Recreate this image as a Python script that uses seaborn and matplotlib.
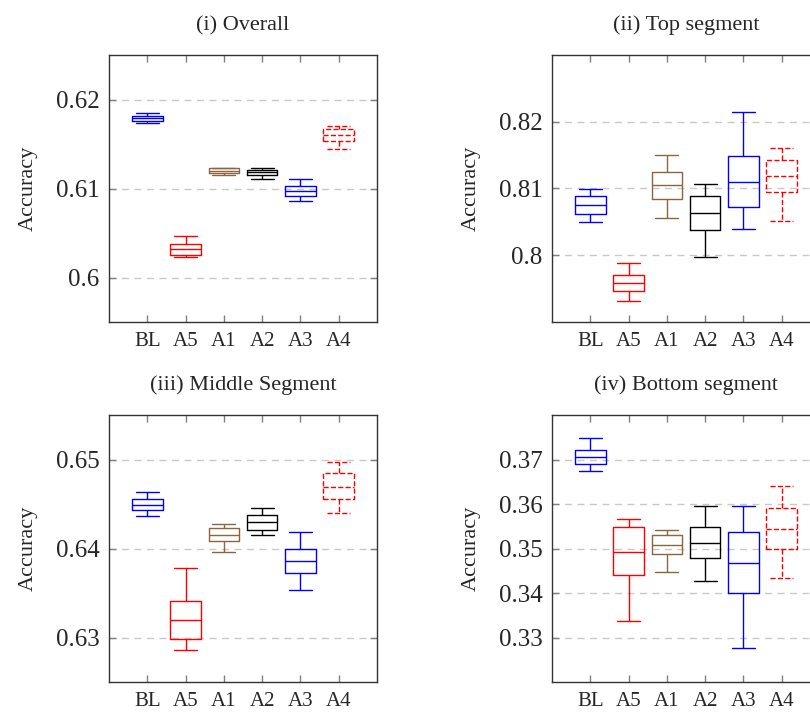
import pandas as pd
import matplotlib.pyplot as plt
import seaborn as sns

# Models in plotting order
models = ['BL', 'A5', 'A1', 'A2', 'A3', 'A4']
colors = ['#0000ff', '#ff0000', '#8b6540', '#000000', '#0000ff', '#ff0000']

# Five-number summaries: [low whisker, q1, median, q3, high whisker]
overall = {
    'BL': [0.61738, 0.61764, 0.61790, 0.61816, 0.61843],
    'A5': [0.60232, 0.60258, 0.60315, 0.60375, 0.60464],
    'A1': [0.61150, 0.61176, 0.61202, 0.61225, 0.61232],
    'A2': [0.61112, 0.61154, 0.61184, 0.61213, 0.61232],
    'A3': [0.60861, 0.60921, 0.60970, 0.61026, 0.61105],
    'A4': [0.61449, 0.61539, 0.61603, 0.61663, 0.61704],
}
top_seg = {
    'BL': [0.80494, 0.80623, 0.80757, 0.80886, 0.80995],
    'A5': [0.79313, 0.79462, 0.79581, 0.79710, 0.79888],
    'A1': [0.80563, 0.80841, 0.81055, 0.81248, 0.81496],
    'A2': [0.79978, 0.80385, 0.80638, 0.80886, 0.81060],
    'A3': [0.80395, 0.80727, 0.81099, 0.81486, 0.82151],
    'A4': [0.80514, 0.80950, 0.81194, 0.81427, 0.81600],
}
middle_seg = {
    'BL': [0.64363, 0.64434, 0.64493, 0.64561, 0.64640],
    'A5': [0.62856, 0.62983, 0.63196, 0.63409, 0.63783],
    'A1': [0.63963, 0.64082, 0.64153, 0.64232, 0.64280],
    'A2': [0.64153, 0.64213, 0.64295, 0.64374, 0.64452],
    'A3': [0.63533, 0.63723, 0.63854, 0.63993, 0.64183],
    'A4': [0.64400, 0.64557, 0.64695, 0.64845, 0.64972],
}
bottom_seg = {
    'BL': [0.36734, 0.36906, 0.37064, 0.37221, 0.37492],
    'A5': [0.33371, 0.34407, 0.34932, 0.35473, 0.35653],
    'A1': [0.34482, 0.34872, 0.35083, 0.35308, 0.35405],
    'A2': [0.34280, 0.34782, 0.35128, 0.35473, 0.35960],
    'A3': [0.32764, 0.34000, 0.34685, 0.35360, 0.35946],
    'A4': [0.34347, 0.34985, 0.35435, 0.35900, 0.36396],
}

panels = [
    ('(i) Overall', overall, (0.595, 0.625), [0.60, 0.61, 0.62], ['0.6', '0.61', '0.62']),
    ('(ii) Top segment', top_seg, (0.79, 0.83), [0.80, 0.81, 0.82], ['0.8', '0.81', '0.82']),
    ('(iii) Middle Segment', middle_seg, (0.625, 0.655), [0.63, 0.64, 0.65], ['0.63', '0.64', '0.65']),
    ('(iv) Bottom segment', bottom_seg, (0.32, 0.38), [0.33, 0.34, 0.35, 0.36, 0.37],
     ['0.33', '0.34', '0.35', '0.36', '0.37']),
]

sns.set_style('white')
plt.rcParams['font.family'] = ['Liberation Serif', 'DejaVu Serif']

W, H = 810, 716
fig = plt.figure(figsize=(W / 100, H / 100), dpi=100)

# axes boxes in pixels: left, top, width, height
boxes = [(109, 55, 268, 267), (552, 55, 268, 267),
         (109, 415, 268, 267), (552, 415, 268, 267)]

for (title, stats, ylim, yticks, ylabels), (px, py, pw, ph) in zip(panels, boxes):
    ax = fig.add_axes([px / W, (H - py - ph) / H, pw / W, ph / H])

    df = pd.DataFrame([(m, v) for m in models for v in stats[m]], columns=['model', 'acc'])

    for m, c in zip(models, colors):
        ls = '--' if m == 'A4' else '-'
        props = dict(linestyle=ls, linewidth=1.0)
        sns.boxplot(
            data=df[df['model'] == m], x='model', y='acc', order=models,
            color=c, fill=False, whis=(0, 100), width=0.8, linewidth=1.0,
            showfliers=False, capwidths=0.6,
            boxprops=props, whiskerprops=props, capprops=props, medianprops=props,
            ax=ax
        )

    ax.set_xlim(-1, 6)
    ax.set_ylim(*ylim)
    ax.set_yticks(yticks)
    ax.set_yticklabels(ylabels, fontsize=18)
    ax.set_xticks(range(len(models)))
    ax.set_xticklabels(models, fontsize=15)
    ax.set_xlabel('')
    ax.set_ylabel('Accuracy', fontsize=16, labelpad=13)
    ax.set_title(title, fontsize=16, pad=18)

    ax.yaxis.grid(True, linestyle=(0, (5, 4)), color='#c8c8c8', linewidth=1.0)
    ax.set_axisbelow(True)
    ax.tick_params(axis='both', direction='in', length=5, width=1.0, color='#808080',
                   top=True, right=True, bottom=True, left=True, pad=7)
    for s in ax.spines.values():
        s.set_color('#333333')
        s.set_linewidth(1.0)

fig.savefig('out.png', dpi=100)
